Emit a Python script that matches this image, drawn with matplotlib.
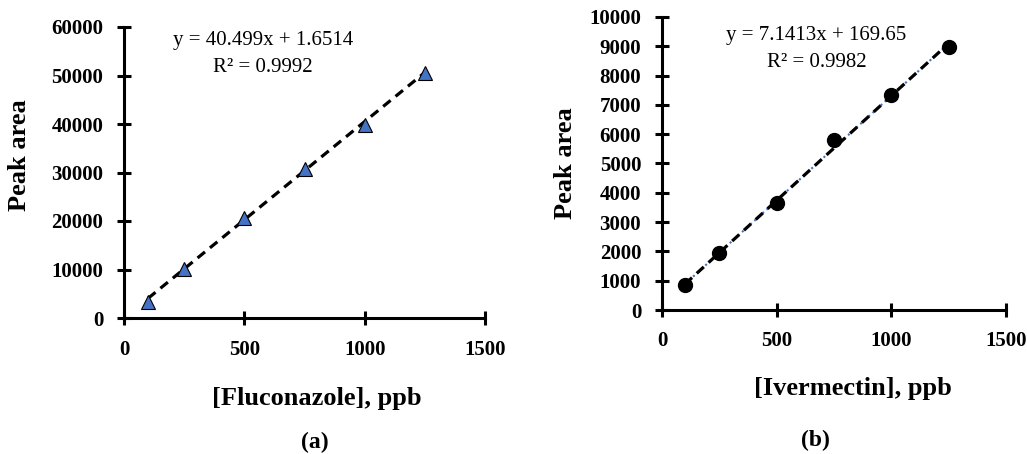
import matplotlib
import matplotlib.pyplot as plt
import numpy as np
matplotlib.use('agg')

# calibration data
conc = [100, 250, 500, 750, 1000, 1250]
fluconazole_area = [3400, 10100, 20700, 30800, 39700, 50600]
ivermectin_area = [850, 1930, 3640, 5800, 7330, 8960]

# trend line coefficients as printed on the chart
fluc_slope, fluc_icpt = 40.499, 1.6514
iver_slope, iver_icpt = 7.1413, 169.65

W, H = 1027, 454
plt.rcParams['font.family'] = ['Liberation Serif', 'DejaVu Serif']

fig = plt.figure(figsize=(W / 100, H / 100), dpi=100)


def px(x, y):
    return x / W, 1 - y / H


def box(x0, y0, x1, y1):
    return [x0 / W, 1 - y1 / H, (x1 - x0) / W, (y1 - y0) / H]


def style_axes(ax, ymax, ystep, xpad, ypad):
    ax.set_xlim(0, 1500)
    ax.set_ylim(0, ymax)
    ax.set_xticks(np.arange(0, 1501, 500))
    ax.set_yticks(np.arange(0, ymax + 1, ystep))
    for side in ['top', 'right']:
        ax.spines[side].set_visible(False)
    for side in ['left', 'bottom']:
        ax.spines[side].set_linewidth(2.2)
    ax.tick_params(direction='inout', length=10, width=2.2, labelsize=15)
    ax.tick_params(axis='x', pad=xpad)
    ax.tick_params(axis='y', pad=ypad)
    for lab in ax.get_xticklabels() + ax.get_yticklabels():
        lab.set_fontweight('bold')
    ax.patch.set_visible(False)


# (a) fluconazole
ax1 = fig.add_axes(box(124, 27, 485, 318))
xf = np.array([conc[0], conc[-1]])
ax1.plot(xf, fluc_slope * xf + fluc_icpt, color='black', lw=2.3,
         ls=(0, (3, 2)), zorder=2)
ax1.plot(conc, fluconazole_area, ls='none', marker='^', ms=10,
         mfc='#4472C4', mec='black', mew=0.8, zorder=3, clip_on=False)
style_axes(ax1, 60000, 10000, 11, 10)

# (b) ivermectin
ax2 = fig.add_axes(box(662, 17, 1006, 310))
ax2.plot(xf, iver_slope * xf + iver_icpt, color='#4472C4', lw=1.5,
         ls=':', zorder=1)
ax2.plot(xf, iver_slope * xf + iver_icpt, color='black', lw=2.3,
         ls=(0, (3, 2)), zorder=2)
ax2.plot(conc, ivermectin_area, ls='none', marker='o', ms=10,
         mfc='black', mec='black', zorder=3, clip_on=False)
style_axes(ax2, 10000, 1000, 10, 10)

# axis titles and panel letters
fig.text(*px(20, 155), 'Peak area', rotation=90, fontsize=19,
         fontweight='bold', ha='center', va='center')
fig.text(*px(317, 399), '[Fluconazole], ppb', fontsize=19,
         fontweight='bold', ha='center', va='center')
fig.text(*px(315, 442), '(a)', fontsize=17, fontweight='bold',
         ha='center', va='center')

fig.text(*px(565, 163), 'Peak area', rotation=90, fontsize=19,
         fontweight='bold', ha='center', va='center')
fig.text(*px(853, 388), '[Ivermectin], ppb', fontsize=19,
         fontweight='bold', ha='center', va='center')
fig.text(*px(815, 440), '(b)', fontsize=17, fontweight='bold',
         ha='center', va='center')

# trend line equations
fig.text(*px(263, 45), 'y = 40.499x + 1.6514', fontsize=15,
         ha='center', va='baseline')
fig.text(*px(263, 72), 'R² = 0.9992', fontsize=15, ha='center', va='baseline')
fig.text(*px(816, 40), 'y = 7.1413x + 169.65', fontsize=15,
         ha='center', va='baseline')
fig.text(*px(817, 67), 'R² = 0.9982', fontsize=15, ha='center', va='baseline')

fig.savefig('out.png', dpi=100)
